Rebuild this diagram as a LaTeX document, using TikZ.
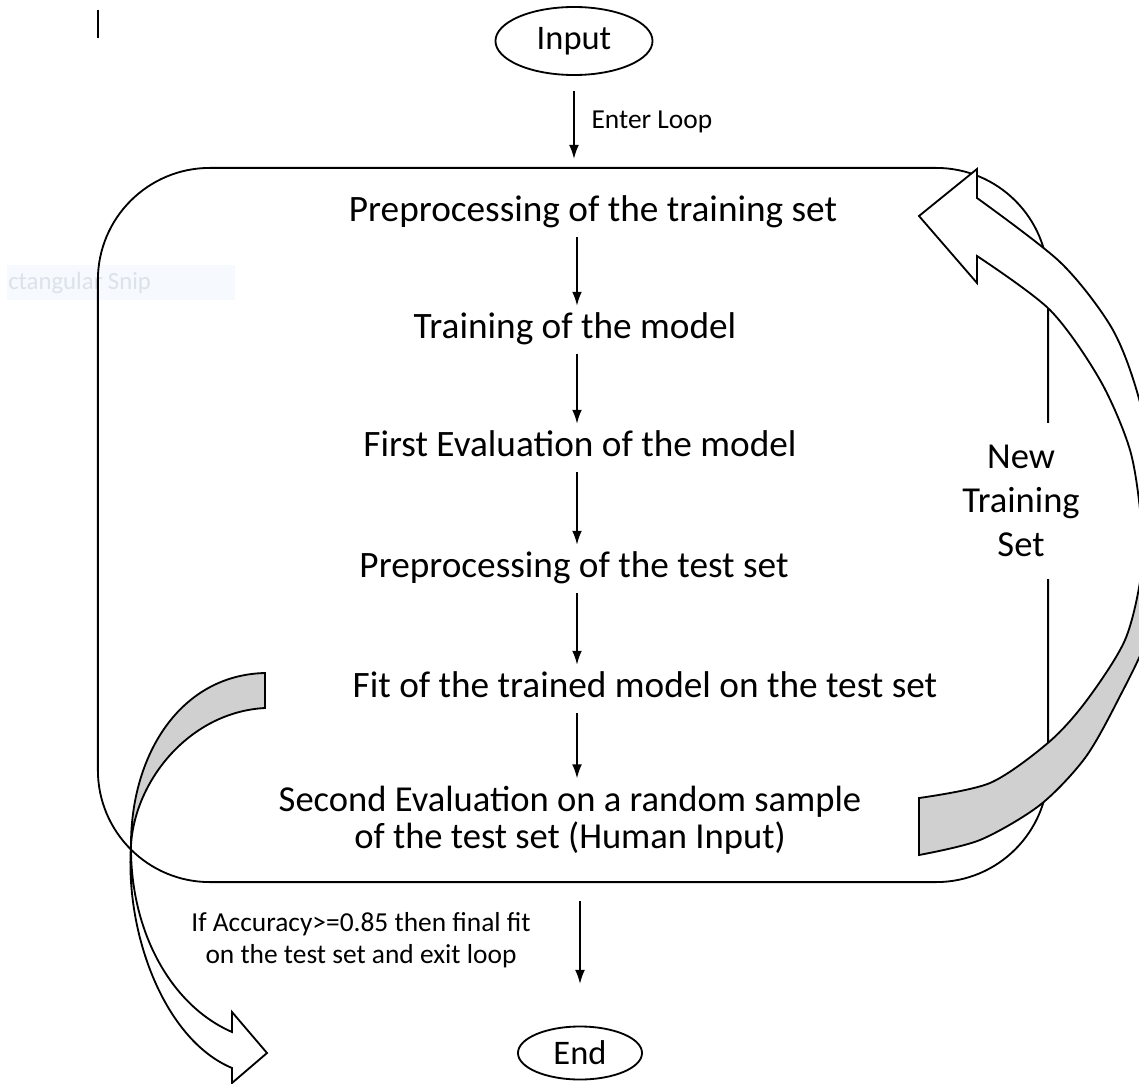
\documentclass[tikz,border=0pt]{standalone}
\usepackage{fontspec}
\setmainfont{Carlito}
\usepackage{xcolor}
\usepackage{tikz}
\usetikzlibrary{shapes,arrows,arrows.meta,positioning}
\definecolor{backgrey}{RGB}{208, 208, 208}
\definecolor{snipbg}{RGB}{246, 249, 253}
\definecolor{sniptext}{RGB}{220, 226, 234}
\tikzstyle{terminal} = [ellipse, draw, line width=1.3pt, inner sep=0pt, font=\fontsize{24.5}{29}\selectfont]
\tikzstyle{stepbox} = [text centered, inner sep=5pt, text height=18pt, text depth=6pt, font=\fontsize{26.5}{31}\selectfont]
\tikzstyle{twoline} = [align=center, inner sep=5pt, font=\fontsize{26}{26.5}\selectfont]
\tikzstyle{loopbox} = [rectangle, draw, line width=1.3pt, rounded corners=2.8cm, minimum width=23.75cm, minimum height=17.85cm]
\tikzstyle{note} = [align=center, font=\fontsize{19.5}{22.8}\selectfont]
\tikzstyle{line} = [draw, line width=1.3pt, -{Latex[length=10pt, width=7pt]}]
\tikzstyle{bigarrow} = [draw, line width=1.3pt, line join=miter]
\newcommand{\retarrow}{plot[smooth] coordinates {(919,798) (990,783) (1049,742) (1087,700) (1125,640) (1141,575) (1141,520) (1130,450) (1100,380) (1050,310) (977,256)} -- (977,283) -- (919,216) -- (977,169) -- (977,198) -- plot[smooth] coordinates {(977,198) (1060,262) (1110,325) (1135,385) (1155,470) (1160,560) (1148,635) (1118,700) (1085,758) (1040,805) (980,840) (919,855)} -- cycle}

\begin{document}
\begin{tikzpicture}[x=0.025cm, y=-0.025cm]
    \useasboundingbox (0,0) rectangle (1139,1084);
    \clip (0,0) rectangle (1139,1084);

    \fill [snipbg] (7,265) rectangle (235,300);
    \node [note, text=sniptext, anchor=west, inner sep=0pt, font=\fontsize{17.6}{20}\selectfont] (snip) at (8,283) {ctangular Snip};
    \draw [line width=1.3pt] (98,10) -- (98,38);

    \node [terminal, minimum width=3.925cm, minimum height=1.7cm] (input) at (574,41) {Input};
    \node [loopbox] (loop) at (573,525) {};
    \node [stepbox] (pretrain) at (593,213) {Preprocessing of the training set};
    \node [stepbox] (train) at (575,330) {Training of the model};
    \node [stepbox] (firsteval) at (580,448) {First Evaluation of the model};
    \node [stepbox] (pretest) at (574,569) {Preprocessing of the test set};
    \node [stepbox] (fitmodel) at (645,689) {Fit of the trained model on the test set};
    \node [twoline] (secondeval) at (570,820) {Second Evaluation on a random sample\\of the test set (Human Input)};
    \node [twoline, fill=white, minimum height=3.9cm, font=\fontsize{26}{31.3}\selectfont] (newset) at (1021,501) {New\\Training\\Set};
    \node [note] (exitnote) at (361,940) {If Accuracy>=0.85 then final fit\\on the test set and exit loop};
    \node [terminal, minimum width=3.1cm, minimum height=1.325cm] (end) at (580,1053) {End};
    \coordinate (ax) at (577,0);

    \path [line, shorten <=0.375cm, shorten >=0.2cm] (input) -- node [note, right, xshift=0.3cm] (enter) {Enter Loop} (input.south |- loop.north);
    \path [line] (pretrain.south -| ax) -- (train.north -| ax);
    \path [line] (train.south -| ax) -- (firsteval.north -| ax);
    \path [line] (firsteval.south -| ax) -- (pretest.north -| ax);
    \path [line] (pretest.south -| ax) -- (fitmodel.north -| ax);
    \path [line] (fitmodel.south -| ax) -- (secondeval.north -| ax);
    \path [line, shorten <=0.45cm, shorten >=1.04cm] (loop.south -| end) -- (end);

    \fill [white] \retarrow;
    \begin{scope}
        \clip (0,570) rectangle (1200,1100);
        \fill [backgrey] \retarrow;
    \end{scope}
    \draw [bigarrow] \retarrow;

    \filldraw [bigarrow, fill=backgrey] (265,673) .. controls (180,675) and (131,755) .. (131,845) .. controls (135,780) and (190,712) .. (265,708) -- cycle;
    \filldraw [bigarrow, fill=white] (131,845) .. controls (130,930) and (170,1005) .. (232,1032) -- (232,1012) -- (267,1053) -- (232,1083) -- (232,1068) .. controls (165,1040) and (125,935) .. (131,845) -- cycle;
\end{tikzpicture}
\end{document}
